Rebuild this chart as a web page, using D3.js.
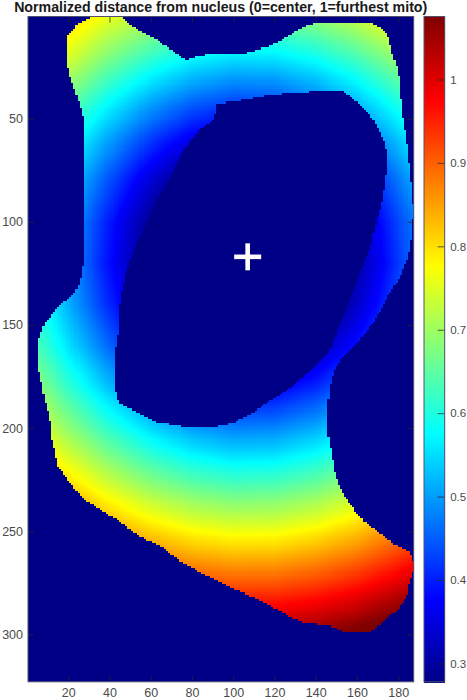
<!DOCTYPE html>
<html><head><meta charset="utf-8">
<script src="https://cdn.jsdelivr.net/npm/d3@7"></script>
<style>html,body{margin:0;padding:0;background:#fff}svg{display:block}text{font-family:"Liberation Sans",Arial,sans-serif}</style>
</head><body><svg id="c" width="467" height="700"></svg>
<script>
const titleText = "Normalized distance from nucleus (0=center, 1=furthest mito)";
const xTicks = [20,40,60,80,100,120,140,160,180];
const yTicks = [50,100,150,200,250,300];
const cTicks = [0.3,0.4,0.5,0.6,0.7,0.8,0.9,1];
const center = [107,117];
// Cell outline and nucleus hole (data units)
const outerOutline = [[31.4,.7],[45.9,.7],[49.1,4],[54.8,7.5],[61.3,10.8],[67.7,15.3],[76.6,21.4],[82.3,19.8],[87.1,18.8],[100.4,19],[106.9,17.9],[116.6,15.3],[124.6,11.2],[132.7,6.4],[140,3.2],[152.1,3.2],[167.5,4],[172.3,6.4],[175.1,10.4],[176.4,16.9],[179.6,26.6],[180.7,34.7],[181.2,44.4],[182.8,54.1],[184.4,65.4],[185.6,76.7],[186.9,89.6],[187.3,96],[186,109],[184.4,117.1],[180.4,126.8],[174.7,136.5],[168.3,147.8],[160.2,158.3],[152.9,165.6],[148.9,171.2],[146.9,178.5],[145.6,188.2],[146,204.3],[148.1,215.7],[148.6,220.5],[151.3,228.6],[156.2,236.7],[162.6,244.7],[169.9,250.4],[176.4,255.2],[185.2,260.1],[187.3,264.9],[186.9,270.6],[185.2,274.6],[183.6,281.9],[179.6,287.6],[171.5,294.8],[165.8,298.4],[153.7,298.4],[146.5,295.6],[135.1,294.5],[127.9,291.6],[118.2,286],[110.1,281.9],[100.4,277.9],[90.3,273],[80.6,267.7],[72.6,263.3],[66.1,258],[58,254],[50.7,249.3],[43.5,244.3],[37,240.2],[28.9,235],[22.5,228.6],[16.8,220.5],[15.2,218.9],[12,205.9],[10.8,194.6],[7.9,183.3],[6,172],[5.7,157.5],[7.9,150.2],[12.8,143.7],[22.5,134.9],[25.7,129.2],[27,121.9],[27.3,109],[27.3,49.2],[24.9,41.1],[21.7,31.4],[19.6,24.2],[19.6,9.6],[24.9,4]];
const innerOutline = [[100.4,41.6],[92,42.4],[90.3,50.8],[83.9,54.9],[76.6,63.8],[69.3,78.3],[62.9,89.6],[56.4,104.2],[53.2,109],[48.3,123.5],[45.1,138.1],[44.3,152.6],[42.7,162.3],[42.7,181.7],[44.3,188.2],[54.8,193],[62.9,197.1],[77.4,199.5],[92,199.2],[100.4,197.4],[108.5,193],[118.2,186.6],[127.9,180.1],[137.6,172],[144.8,164.8],[148.1,159.9],[152.1,147.8],[158.6,131.6],[163.4,120.3],[166.7,112.2],[168.3,104.2],[172.3,89.6],[174.4,75.1],[173.9,62.1],[168.3,50.8],[162.6,43.6],[152.9,36.6],[132.7,37.1],[116.6,38.7]];
// Estimated values on a coarse grid
const gridX = [0,20,40,60,80,100,120,140,160,180,200];
const gridY = [0,20,40,60,80,100,120,140,160,180,200,220,240,260,280,300];
const gridValues = [
[.909,.820,.760,.723,.689,.672,.675,.697,.736,.791,.857],
[.828,.747,.676,.618,.577,.558,.561,.588,.634,.696,.771],
[.756,.666,.585,.517,.468,.443,.448,.480,.536,.608,.692],
[.695,.596,.504,.424,.362,.329,.335,.378,.446,.531,.625],
[.649,.542,.439,.343,.263,.216,.225,.284,.371,.469,.574],
[.621,.508,.396,.287,.183,.105,.123,.213,.319,.430,.542],
[.614,.499,.385,.270,.156,.044,.076,.190,.304,.419,.534],
[.627,.516,.406,.300,.203,.138,.151,.231,.331,.439,.549],
[.661,.556,.456,.365,.291,.250,.257,.311,.391,.486,.588],
[.712,.616,.527,.451,.393,.364,.369,.408,.472,.553,.644],
[.776,.689,.612,.547,.501,.478,.482,.512,.565,.634,.715],
[.852,.773,.705,.649,.611,.592,.595,.620,.664,.724,.796],
[.935,.864,.803,.755,.722,.706,.709,.730,.768,.820,.884],
[1.024,.960,.905,.863,.834,.821,.823,.842,.874,.921,.978],
[1.118,1.059,1.010,.973,.947,.936,.938,.954,.983,1.024,1.076],
[1.216,1.162,1.117,1.083,1.061,1.050,1.052,1.066,1.092,1.130,1.177]];
const cLimits = [0.278,1.0755];
const jetStops = ["#000087","#0000ff","#00ffff","#ffff00","#ff0000","#800000"];
const jetPos = [0,.125,.375,.625,.875,1];

const M = {l:28,r:413.7,t:16.5,b:681.8};
const x = d3.scaleLinear().domain([.5,187.5]).range([M.l,M.r]);
const y = d3.scaleLinear().domain([.5,323]).range([M.t,M.b]);
const c = d3.scaleLinear().domain(jetPos.map(p=>cLimits[0]+p*(cLimits[1]-cLimits[0]))).range(jetStops).clamp(true);
const barY = d3.scaleLinear().domain(cLimits).range([M.b,M.t]);

const svg = d3.select("#c");
svg.append("rect").attr("x",M.l).attr("y",M.t).attr("width",M.r-M.l).attr("height",M.b-M.t).attr("fill",jetStops[0]);

function valueAt(px,py){
  const i=Math.min(Math.floor(px/20),gridX.length-2), j=Math.min(Math.floor(py/20),gridY.length-2);
  const u=(px-gridX[i])/20, w=(py-gridY[j])/20;
  return d3.interpolateNumber(
    d3.interpolateNumber(gridValues[j][i],gridValues[j][i+1])(u),
    d3.interpolateNumber(gridValues[j+1][i],gridValues[j+1][i+1])(u))(w);
}
const cells=[];
for(const cy of d3.range(1,300)) for(const cx of d3.range(1,188)){
  if(d3.polygonContains(outerOutline,[cx,cy]) && !d3.polygonContains(innerOutline,[cx,cy])) cells.push([cx,cy,valueAt(cx,cy)]);
}
svg.append("g").attr("shape-rendering","crispEdges").selectAll("rect").data(cells).join("rect")
  .attr("x",d=>x(d[0]-.5)).attr("y",d=>y(d[1]-.5))
  .attr("width",x(1.5)-x(.5)+.4).attr("height",y(1.5)-y(.5)+.4)
  .attr("fill",d=>c(d[2]));

// Centre marker
const mk=svg.append("g").attr("stroke","#fff").attr("stroke-width",4.6);
mk.append("line").attr("x1",x(center[0])-13.5).attr("x2",x(center[0])+13.5).attr("y1",y(center[1])).attr("y2",y(center[1]));
mk.append("line").attr("y1",y(center[1])-13.5).attr("y2",y(center[1])+13.5).attr("x1",x(center[0])).attr("x2",x(center[0]));

const tickCol="#262626", labCol="#4a4a4a";
function style(g,size){
  g.selectAll("text").attr("fill",labCol).attr("font-size",size);
  g.selectAll("line").attr("stroke",tickCol).attr("stroke-opacity",.75);
  g.select(".domain").remove();
}
svg.append("g").attr("transform",`translate(0,${M.b})`).call(d3.axisBottom(x).tickValues(xTicks).tickSizeInner(-6).tickSizeOuter(0).tickPadding(6)).call(style,12.5);
svg.append("g").attr("transform",`translate(0,${M.t})`).call(d3.axisTop(x).tickValues(xTicks).tickSizeInner(-6).tickSizeOuter(0).tickFormat("")).call(style,12.5);
svg.append("g").attr("transform",`translate(${M.l},0)`).call(d3.axisLeft(y).tickValues(yTicks).tickSizeInner(-6).tickSizeOuter(0).tickPadding(5)).call(style,12.5);
svg.append("g").attr("transform",`translate(${M.r},0)`).call(d3.axisRight(y).tickValues(yTicks).tickSizeInner(-6).tickSizeOuter(0).tickFormat("")).call(style,12.5);
svg.append("rect").attr("x",M.l).attr("y",M.t).attr("width",M.r-M.l).attr("height",M.b-M.t).attr("fill","none").attr("stroke","#50506e").attr("stroke-width",1);

// Colour bar
const barL=424, barR=444.7;
svg.append("g").attr("shape-rendering","crispEdges").selectAll("rect").data(d3.range(M.t,M.b,1)).join("rect")
  .attr("x",barL).attr("width",barR-barL).attr("y",d=>d).attr("height",1.4).attr("fill",d=>c(barY.invert(d+.5)));
svg.append("g").attr("transform",`translate(${barR},0)`).call(d3.axisRight(barY).tickValues(cTicks).tickFormat(d3.format("~g")).tickSizeInner(-7).tickSizeOuter(0).tickPadding(5.5)).call(style,11.5);
svg.append("rect").attr("x",barL).attr("y",M.t).attr("width",barR-barL).attr("height",M.b-M.t).attr("fill","none").attr("stroke","#50506e").attr("stroke-width",1);

svg.append("text").attr("x",220.7).attr("y",12).attr("text-anchor","middle").attr("font-weight","bold").attr("font-size",14.2).attr("fill","#1a1a1a").text(titleText);
</script></body></html>
